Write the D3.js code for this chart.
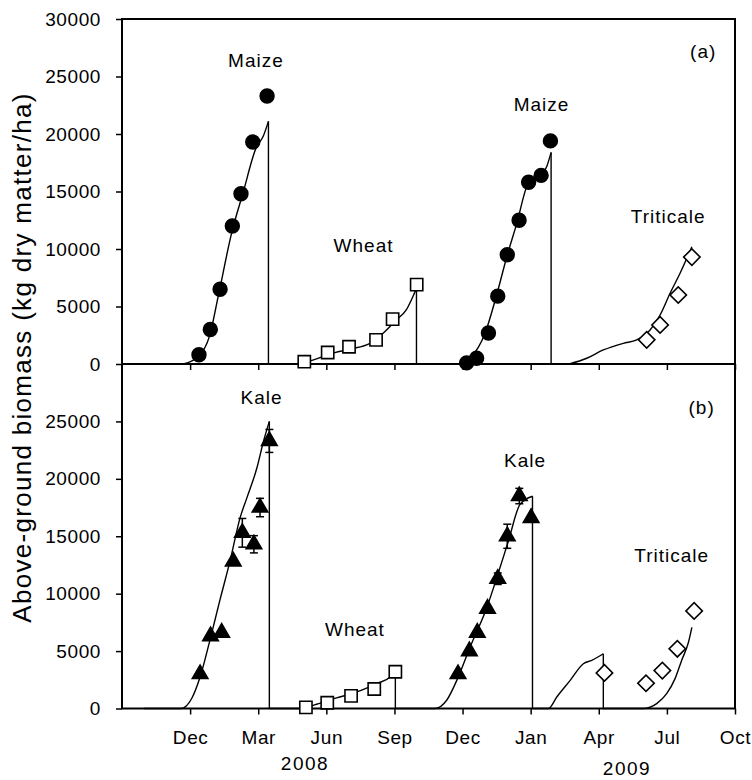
<!DOCTYPE html>
<html>
<head>
<meta charset="utf-8">
<script src="https://cdn.jsdelivr.net/npm/d3@7"></script>
<style>
  body { margin: 0; background: #fff; }
  text { font-family: "Liberation Sans", Arial, sans-serif; fill: #000; }
</style>
</head>
<body>
<svg id="svg1" width="752" height="780"></svg>
<script>
'use strict'

// x axis: months counted from Sep 2007
const monthTicks  = [3, 6, 9, 12, 15, 18, 21, 24, 27];
const monthLabels = ["Dec", "Mar", "Jun", "Sep", "Dec", "Jan", "Apr", "Jul", "Oct"];
const yearLabels  = ["2008", "2009"];
const yTicksA = [0, 5000, 10000, 15000, 20000, 25000, 30000];
const yTicksB = [0, 5000, 10000, 15000, 20000, 25000];

// panel (a) measured biomass
const maize1Months = [3.39, 3.89, 4.32, 4.86, 5.24, 5.76, 6.39];
const maize1Mass   = [800, 3000, 6500, 12000, 14800, 19300, 23300];
const wheatAMonths = [8.03, 9.06, 10.0, 11.19, 11.92, 12.98];
const wheatAMass   = [200, 1000, 1500, 2100, 3900, 6900];
const maize2Months = [15.18, 15.62, 16.14, 16.55, 16.97, 17.49, 17.91, 18.46, 18.87];
const maize2Mass   = [100, 500, 2700, 5900, 9500, 12500, 15800, 16400, 19400];
const tritAMonths  = [23.11, 23.7, 24.5, 25.1];
const tritAMass    = [2100, 3400, 6000, 9300];

// panel (a) simulated biomass (a repeated month = harvest drop)
const maize1SimMonths = [2.7, 3.39, 3.85, 4.24, 4.83, 5.32, 5.93, 6.22, 6.45, 6.45];
const maize1SimMass   = [0, 700, 2400, 5900, 11400, 14800, 18900, 19800, 21100, 0];
const wheatASimMonths = [7.8, 8.5, 9.16, 10.04, 10.92, 11.5, 12.08, 12.52, 12.81, 12.97, 12.97];
const wheatASimMass   = [0, 400, 870, 1300, 1800, 2670, 3830, 4700, 5850, 6580, 0];
const maize2SimMonths = [14.9, 15.33, 15.99, 16.48, 16.95, 17.39, 17.9, 18.41, 18.71, 18.9, 18.9];
const maize2SimMass   = [0, 500, 2670, 5850, 9330, 12230, 15710, 16290, 17180, 18400, 0];
const tritASimMonths  = [19.7, 20.47, 21.2, 22.08, 22.67, 23.26, 23.7, 24.14, 24.58, 25.1];
const tritASimMass    = [0, 500, 1220, 1800, 2090, 2960, 4260, 6150, 7890, 10200];

// panel (b) measured biomass
const kale1Months = [3.44, 3.9, 4.39, 4.9, 5.3, 5.81, 6.08, 6.49];
const kale1Mass   = [3000, 6300, 6600, 12800, 15300, 14300, 17500, 23300];
const kale1Err    = [0, 0, 0, 0, 1250, 750, 800, 1000];
const wheatBMonths = [8.1, 9.04, 10.09, 11.11, 12.04];
const wheatBMass   = [100, 500, 1100, 1700, 3200];
const kale2Months = [14.8, 15.3, 15.65, 16.1, 16.55, 16.97, 17.5, 18.02];
const kale2Mass   = [3000, 5000, 6600, 8700, 11300, 15000, 18500, 16600];
const kale2Err    = [0, 0, 0, 0, 500, 1050, 670, 0];
const tritBMonths = [21.25, 23.08, 23.8, 24.46, 25.2];
const tritBMass   = [3100, 2200, 3300, 5200, 8500];

// panel (b) simulated biomass
const kale1SimMonths = [0.97, 2.6, 3.07, 3.44, 3.88, 4.32, 4.76, 5.2, 5.5, 5.94, 6.23, 6.49, 6.49];
const kale1SimMass   = [0, 0, 870, 2740, 6000, 9500, 12850, 16600, 18340, 20940, 23250, 25000, 0];
const wheatBSimMonths = [6.49, 7.84, 8.57, 9.45, 10.34, 11.22, 11.81, 12.04, 12.04];
const wheatBSimMass   = [0, 0, 370, 920, 1440, 2170, 2740, 3470, 0];
const kale2SimMonths = [12.04, 13.79, 14.3, 14.81, 15.33, 16.07, 16.51, 17.02, 17.53, 18.08, 18.08];
const kale2SimMass   = [0, 0, 720, 2740, 5340, 8800, 11400, 14590, 17770, 18480, 0];
const tritBSimMonths = [18.08, 18.78, 19.15, 19.74, 20.32, 20.69, 21.2, 21.2, 22.96, 23.55, 23.99, 24.36, 24.65, 24.95, 25.1];
const tritBSimMass   = [0, 0, 1000, 2450, 3900, 4190, 4770, 0, 0, 430, 1300, 2600, 4190, 5770, 7070];

const cropNames = ["Maize", "Wheat", "Kale", "Triticale"];
const panelTags = ["(a)", "(b)"];


/**
 * @function
 * @description split a simulated series into runs of rising months, so the harvest drops stay straight
 */
function splitRuns(months, mass){
  let runs = [], run = [[months[0], mass[0]]];
  for (let i = 1; i < months.length; i++) {
    if (months[i] <= months[i - 1]) {
      runs.push(run);
      run = [[months[i - 1], mass[i - 1]]];
    }
    run.push([months[i], mass[i]]);
  }
  runs.push(run);
  return runs;
}


/**
 * @function
 * @description draw one panel: frame, axes, simulated lines and measured points
 */
function drawPanel(svg, x, y, yTicks, showMonthLabels, measured, simulated){
  let g = svg.append("g");

  // frame
  g.append("rect")
    .attr("x", x.range()[0]).attr("y", y.range()[1])
    .attr("width", x.range()[1] - x.range()[0])
    .attr("height", y.range()[0] - y.range()[1])
    .attr("fill", "none").attr("stroke", "#000").attr("stroke-width", 2);

  let yAxis = g.append("g")
    .attr("transform", `translate(${x.range()[0]},0)`)
    .call(d3.axisLeft(y).tickValues(yTicks).tickFormat(d3.format("d")).tickSize(6).tickPadding(15));

  let xAxis = g.append("g")
    .attr("transform", `translate(0,${y.range()[0]})`)
    .call(d3.axisBottom(x).tickValues(monthTicks)
      .tickFormat((d, i) => showMonthLabels ? monthLabels[i] : "")
      .tickSize(6).tickPadding(16));

  [xAxis, yAxis].forEach(a => {
    a.select(".domain").remove();
    a.selectAll(".tick line").attr("stroke", "#000").attr("stroke-width", 1.5);
    a.selectAll(".tick text").style("font-size", "19px").style("letter-spacing", "0.6px").attr("fill", "#000");
  });

  // simulated lines, smooth while rising, straight at harvest
  let smooth = d3.line().x(d => x(d[0])).y(d => y(d[1])).curve(d3.curveMonotoneX);
  let straight = d3.line().x(d => x(d[0])).y(d => y(d[1]));
  simulated.forEach(s => {
    splitRuns(s[0], s[1]).forEach(run => {
      g.append("path")
        .datum(run)
        .attr("d", run.length > 2 || run[0][0] !== run[1][0] ? smooth : straight)
        .attr("fill", "none").attr("stroke", "#000").attr("stroke-width", 1.4);
    });
  });

  // measured points with error bars
  measured.forEach(s => {
    let pts = d3.zip(s.months, s.mass, s.err || s.months.map(() => 0));

    let err = pts.filter(d => d[2] > 0);
    let eb = g.selectAll(null).data(err).enter().append("g");
    eb.append("line")
      .attr("x1", d => x(d[0])).attr("x2", d => x(d[0]))
      .attr("y1", d => y(d[1] - d[2])).attr("y2", d => y(d[1] + d[2]))
      .attr("stroke", "#000").attr("stroke-width", 1.5);
    [-1, 1].forEach(sg => {
      eb.append("line")
        .attr("x1", d => x(d[0]) - 4).attr("x2", d => x(d[0]) + 4)
        .attr("y1", d => y(d[1] + sg * d[2])).attr("y2", d => y(d[1] + sg * d[2]))
        .attr("stroke", "#000").attr("stroke-width", 1.5);
    });

    g.selectAll(null).data(pts).enter().append("path")
      .attr("d", d3.symbol().type(s.symbol).size(s.size))
      .attr("transform", d => `translate(${x(d[0])},${y(d[1])}) rotate(${s.rotate || 0})`)
      .attr("fill", s.filled ? "#000" : "#fff")
      .attr("stroke", "#000").attr("stroke-width", 1.6);
  });

  return g;
}


/**
 * @function
 * @description add a text label at a data position
 */
function addLabel(g, x, y, month, mass, label, anchor){
  g.append("text")
    .attr("x", x(month)).attr("y", y(mass))
    .attr("dy", "0.35em")
    .attr("text-anchor", anchor || "middle")
    .style("font-size", "19px")
    .style("letter-spacing", "1px")
    .text(label);
}


function showChart(){
  let svg = d3.select("#svg1");

  let x  = d3.scaleLinear().domain([0, 27]).range([122, 735]);
  let yA = d3.scaleLinear().domain([0, 30000]).range([364, 19]);
  let yB = d3.scaleLinear().domain([0, 30000]).range([708.5, 364]);

  let circle  = {symbol: d3.symbolCircle, size: 150, filled: true};
  let square  = {symbol: d3.symbolSquare, size: 150, filled: false};
  let tri     = {symbol: d3.symbolTriangle, size: 105, filled: true};
  let diamond = {symbol: d3.symbolSquare, size: 135, filled: false, rotate: 45};

  let gB = drawPanel(svg, x, yB, yTicksB, true,
    [
      Object.assign({months: wheatBMonths, mass: wheatBMass}, square),
      Object.assign({months: tritBMonths, mass: tritBMass}, diamond),
      Object.assign({months: kale1Months, mass: kale1Mass, err: kale1Err}, tri),
      Object.assign({months: kale2Months, mass: kale2Mass, err: kale2Err}, tri)
    ],
    [[kale1SimMonths, kale1SimMass], [wheatBSimMonths, wheatBSimMass],
     [kale2SimMonths, kale2SimMass], [tritBSimMonths, tritBSimMass]]);

  let gA = drawPanel(svg, x, yA, yTicksA, false,
    [
      Object.assign({months: wheatAMonths, mass: wheatAMass}, square),
      Object.assign({months: tritAMonths, mass: tritAMass}, diamond),
      Object.assign({months: maize1Months, mass: maize1Mass}, circle),
      Object.assign({months: maize2Months, mass: maize2Mass}, circle)
    ],
    [[maize1SimMonths, maize1SimMass], [wheatASimMonths, wheatASimMass],
     [maize2SimMonths, maize2SimMass], [tritASimMonths, tritASimMass]]);

  // crop names
  addLabel(gA, x, yA, 5.9, 26440, cropNames[0]);
  addLabel(gA, x, yA, 10.64, 10350, cropNames[1]);
  addLabel(gA, x, yA, 18.48, 22580, cropNames[0]);
  addLabel(gA, x, yA, 24.06, 12870, cropNames[3]);
  addLabel(gA, x, yA, 25.6, 27160, panelTags[0]);

  addLabel(gB, x, yB, 6.15, 27060, cropNames[2]);
  addLabel(gB, x, yB, 10.26, 6930, cropNames[1]);
  addLabel(gB, x, yB, 17.75, 21580, cropNames[2]);
  addLabel(gB, x, yB, 24.21, 13350, cropNames[3]);
  addLabel(gB, x, yB, 25.53, 26200, panelTags[1]);

  // years under the month axis
  svg.append("text").attr("x", 305).attr("y", 770).attr("text-anchor", "middle")
    .style("font-size", "19px").style("letter-spacing", "1.5px").text(yearLabels[0]);
  svg.append("text").attr("x", 627).attr("y", 775).attr("text-anchor", "middle")
    .style("font-size", "19px").style("letter-spacing", "1.5px").text(yearLabels[1]);

  // y axis title
  svg.append("text")
    .attr("transform", "translate(31,357.5) rotate(-90)")
    .attr("text-anchor", "middle")
    .style("font-size", "26px")
    .style("letter-spacing", "1.3px")
    .text("Above-ground biomass (kg dry matter/ha)");
}

showChart();
</script>
</body>
</html>
